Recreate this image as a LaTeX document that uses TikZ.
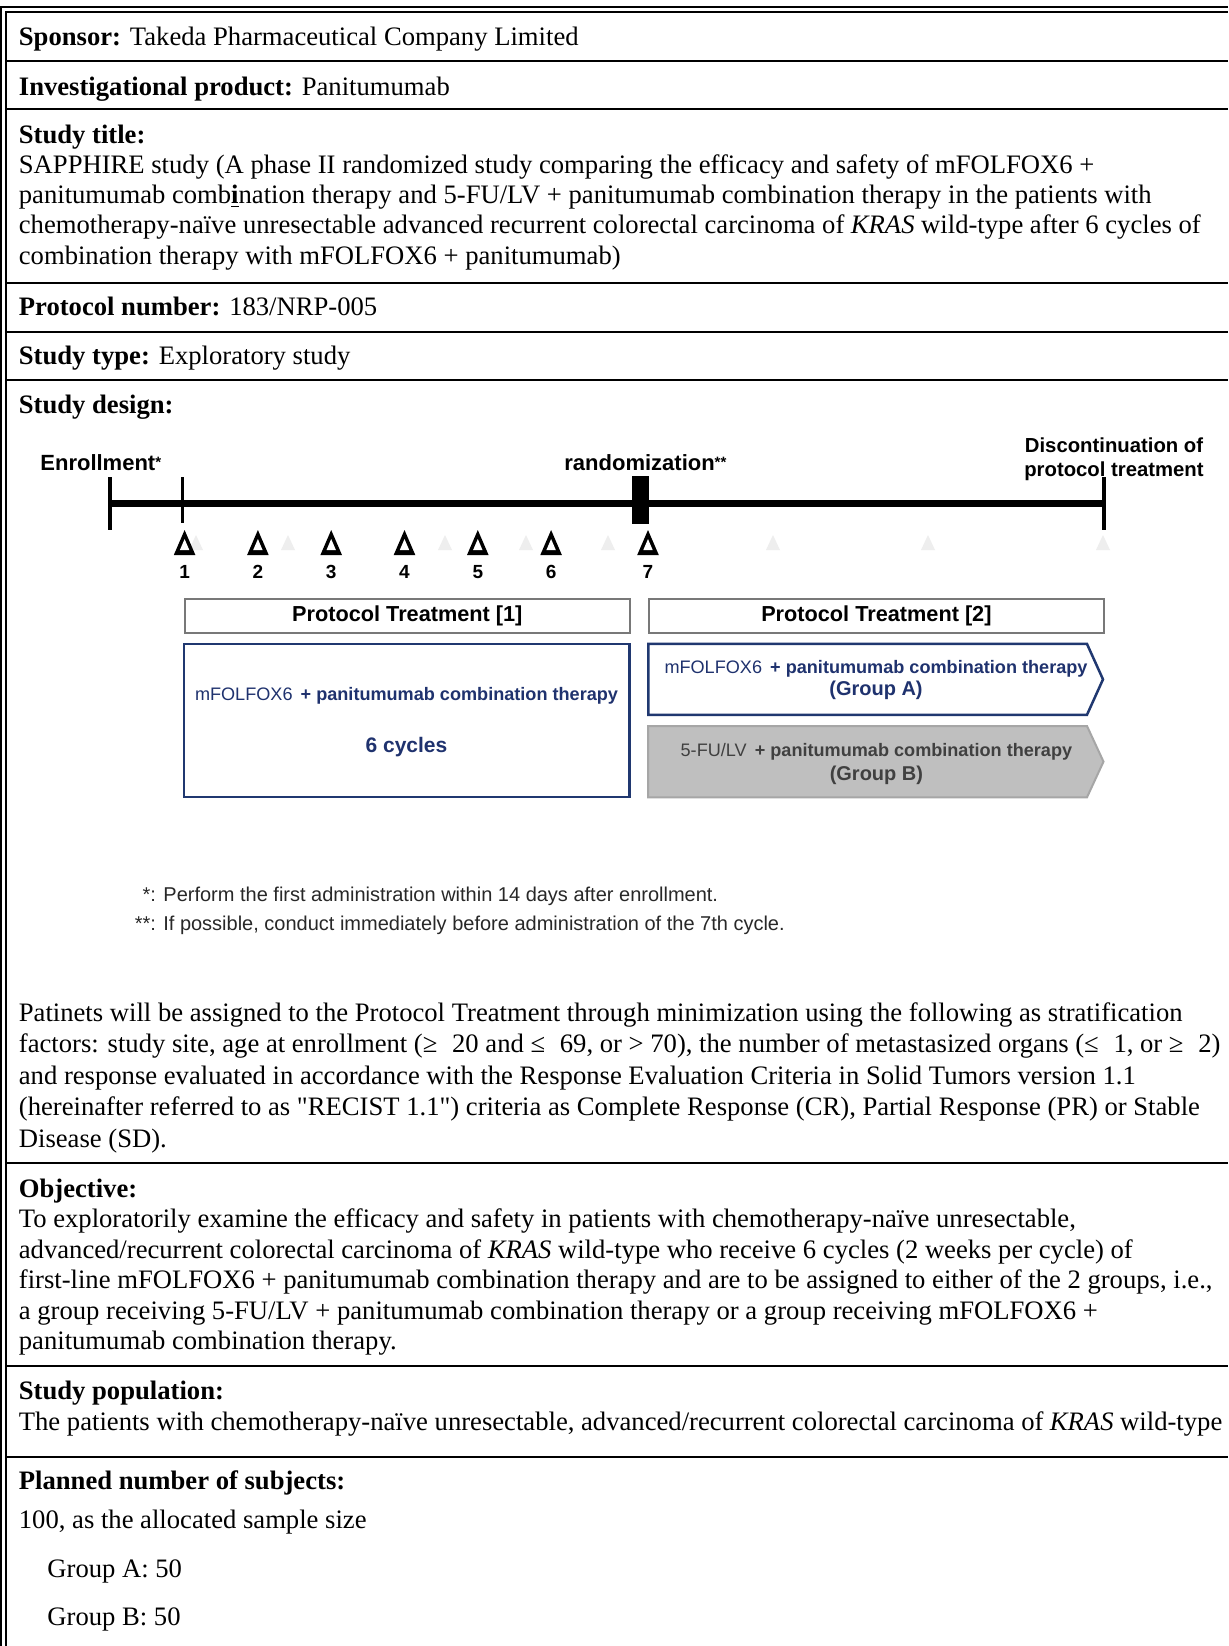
\documentclass[tikz,border=0pt]{standalone}
\usepackage{fontspec}
\setmainfont{Liberation Serif}[Ligatures=TeXOff]
\setsansfont{Liberation Sans}
\usetikzlibrary{calc}

\definecolor{navy}{RGB}{32,56,112}
\definecolor{boxtext}{RGB}{31,50,110}
\definecolor{grpBfill}{RGB}{191,191,191}
\definecolor{grpBline}{RGB}{166,166,166}
\definecolor{grpBtext}{RGB}{64,64,64}
\definecolor{hdrline}{RGB}{120,120,120}
\definecolor{notetext}{RGB}{40,40,40}
\definecolor{faintmark}{RGB}{238,238,238}

% multi-line table cell text, anchored at the baseline of its first line
\newcommand\cell[2]{\parbox[t]{640pt}{\fontsize{13.32pt}{#1}\selectfont #2}}
\newcommand\smallstar{{\fontsize{7.5pt}{8pt}\selectfont\raisebox{1.5pt}{*}}}
% comparison signs set in a wider box, followed by a space
\newcommand\cmp[1]{\makebox[0.85em][l]{#1}\ }

\tikzset{
  every node/.style={inner sep=0pt},
  body/.style={anchor=base west, font=\fontsize{13.32pt}{15.15pt}\selectfont},
  rowrule/.style={line width=1pt},
  framerule/.style={line width=0.7pt},
  tlabel/.style={anchor=base west, font=\sffamily\bfseries\fontsize{11pt}{13pt}\selectfont},
  cycnum/.style={anchor=base, font=\sffamily\bfseries\fontsize{9.5pt}{11pt}\selectfont},
  hdrbox/.style={draw=hdrline, line width=1pt, minimum height=16.85pt,
                 font=\sffamily\bfseries\fontsize{10.85pt}{13pt}\selectfont},
  armtext/.style={anchor=base, font=\sffamily\bfseries\fontsize{9.05pt}{11pt}\selectfont},
  note/.style={anchor=base west, text=notetext, font=\sffamily\fontsize{10pt}{12pt}\selectfont},
  cyclemark/.pic={
    \fill (0,0) -- (10.8,25) -- (-10.8,25) -- cycle;
    \fill[white] (0,9) -- (4.7,20) -- (-4.7,20) -- cycle;
  },
}

\begin{document}
\begin{tikzpicture}[x=0.5pt,y=-0.5pt]
\fill[white] (0,0) rectangle (1228,1646);
\useasboundingbox (0,0) rectangle (1228,1646);

% table frame (double line on top and left) and row rules
\draw[framerule] (1,1646) -- (1,7) -- (1228,7);
\draw[framerule] (6,1646) -- (6,12) -- (1228,12);
\foreach \y in {61,109,283,332,380,1163,1366,1457}
  \draw[rowrule] (6,\y) -- (1228,\y);

% ---- table rows ----
\node[body] (sponsor) at (18.5,45) {\textbf{Sponsor:} Takeda Pharmaceutical Company Limited};
\node[body] (product) at (18.5,95) {\textbf{Investigational product:} Panitumumab};
\node[body] (title) at (18.5,143) {\cell{15.15pt}{\textbf{Study title:}\\
SAPPHIRE study (A phase II randomized study comparing the efficacy and safety of mFOLFOX6 +\\
panitumumab comb\textbf{\underline{i}}nation therapy and 5-FU/LV + panitumumab combination therapy in the patients with\\
chemotherapy-naïve unresectable advanced recurrent colorectal carcinoma of \textit{KRAS} wild-type after 6 cycles of\\
combination therapy with mFOLFOX6 + panitumumab)}};
\node[body] (protno) at (18.5,315) {\textbf{Protocol number:} 183/NRP-005};
\node[body] (stype) at (18.5,364.5) {\textbf{Study type:} Exploratory study};
\node[body] (sdesign) at (18.5,413.5) {\textbf{Study design:}};

\node[body] (strat) at (18.5,1021) {\cell{15.75pt}{Patinets will be assigned to the Protocol Treatment through minimization using the following as stratification\\
factors: study site, age at enrollment (\cmp{≥}20 and \cmp{≤}69, or > 70), the number of metastasized organs (\cmp{≤}1, or \cmp{≥}2)\\
and response evaluated in accordance with the Response Evaluation Criteria in Solid Tumors version 1.1\\
(hereinafter referred to as "RECIST 1.1") criteria as Complete Response (CR), Partial Response (PR) or Stable\\
Disease (SD).}};

\node[body] (objective) at (18.5,1197) {\cell{15.25pt}{\textbf{Objective:}\\
To exploratorily examine the efficacy and safety in patients with chemotherapy-naïve unresectable,\\
advanced/recurrent colorectal carcinoma of \textit{KRAS} wild-type who receive 6 cycles (2 weeks per cycle) of\\
first-line mFOLFOX6 + panitumumab combination therapy and are to be assigned to either of the 2 groups, i.e.,\\
a group receiving 5-FU/LV + panitumumab combination therapy or a group receiving mFOLFOX6 +\\
panitumumab combination therapy.}};

\node[body] (population) at (18.5,1399) {\cell{15.5pt}{\textbf{Study population:}\\
The patients with chemotherapy-naïve unresectable, advanced/recurrent colorectal carcinoma of \textit{KRAS} wild-type}};

\node[body] (planned) at (18.5,1489) {\textbf{Planned number of subjects:}};
\node[body] (samplesize) at (18.5,1528) {100, as the allocated sample size};
\node[body] (grpAn) at (47,1577) {Group A: 50};
\node[body] (grpBn) at (47,1625) {Group B: 50};

% ---- study design: time line ----
\coordinate (tleft) at (110,503.5);
\coordinate (tright) at (1104,503.5);
\draw[line width=3.25pt] (tleft) -- (tright);
\draw[line width=1.6pt] (110,477) -- (110,530);
\draw[line width=1.2pt] (182.6,477) -- (182.6,523);
\draw[line width=1.75pt] (1104,477) -- (1104,530);
\fill (632,476) rectangle (649,524);

\node[tlabel] (enroll) at (40,470.7) {Enrollment\smallstar};
\node[tlabel] (rand) at (564,470.7) {randomization\smallstar\smallstar};
\node[anchor=base, font=\sffamily\bfseries\fontsize{10.15pt}{12pt}\selectfont] (discont) at (1114,452)
  {\parbox[t]{110pt}{\centering Discontinuation of\\protocol treatment}};

% faint cycle marks in the background
\foreach \x in {196,288,445,526,608,773,928,1103}
  \fill[faintmark] (\x,535) -- (\x+7,550) -- (\x-7,550) -- cycle;

% administration marks for cycles 1-7
\foreach \i/\x in {1/184.6,2/257.9,3/331.2,4/404.5,5/477.8,6/551.1,7/648} {
  \pic at (\x,530) {cyclemark};
  \node[cycnum] (n\i) at (\x,578) {\i};
}

% ---- protocol treatment boxes ----
\node[hdrbox, minimum width=222.5pt] (pt1hdr) at (407.3,616.15) {Protocol Treatment [1]};
\node[hdrbox, minimum width=227.4pt] (pt2hdr) at (876.4,616.15) {Protocol Treatment [2]};

\node[draw=navy, line width=1.25pt, minimum width=222.85pt, minimum height=76.4pt] (pt1box) at (406.7,720.35) {};
\node[armtext, text=boxtext] (pt1txt) at (406.5,700)
  {{\mdseries mFOLFOX6}\hspace{0.45em}+ panitumumab combination therapy};
\node[anchor=base, text=boxtext, font=\sffamily\bfseries\fontsize{10.5pt}{12pt}\selectfont] (pt1cyc) at (406.5,752.7) {6 cycles};

% group A arm
\draw[navy, line width=1.25pt, line join=miter]
  (648.45,643.95) -- (1087,643.95) -- (1103,679.35) -- (1087,714.75) -- (648.45,714.75) -- cycle;
\node[armtext, text=boxtext] (grpAtxt) at (876,673.3)
  {{\mdseries mFOLFOX6}\hspace{0.45em}+ panitumumab combination therapy};
\node[armtext, text=boxtext, font=\sffamily\bfseries\fontsize{10pt}{12pt}\selectfont] (grpAlab) at (876,695) {(Group A)};

% group B arm
\draw[grpBline, fill=grpBfill, line width=1pt, line join=miter]
  (648.2,726) -- (1087,726) -- (1103.5,761.65) -- (1087,797.3) -- (648.2,797.3) -- cycle;
\node[armtext, text=grpBtext] (grpBtxt) at (876.4,756.7)
  {{\mdseries 5-FU/LV}\hspace{0.45em}+ panitumumab combination therapy};
\node[armtext, text=grpBtext, font=\sffamily\bfseries\fontsize{10pt}{12pt}\selectfont] (grpBlab) at (876.4,780) {(Group B)};

% footnotes
\node[note] (note1) at (142.3,901.7) {*: Perform the first administration within 14 days after enrollment.};
\node[note] (note2) at (134.4,930.7) {**: If possible, conduct immediately before administration of the 7th cycle.};
\end{tikzpicture}
\end{document}
